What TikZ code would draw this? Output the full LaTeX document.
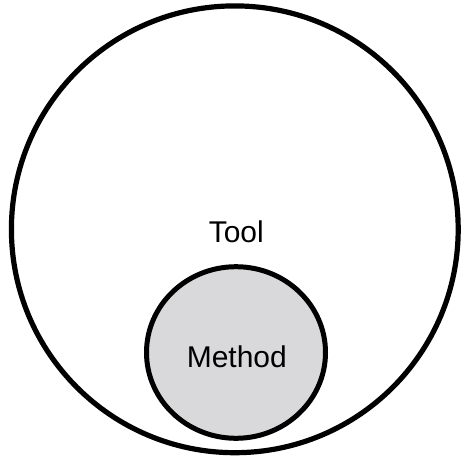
\documentclass[tikz,border=0pt]{standalone}
\usepackage{fontspec}
\setmainfont{Liberation Sans}
\definecolor{methodfill}{RGB}{217,216,218}
\begin{document}
\begin{tikzpicture}[x=1pt,y=-1pt,
  outerset/.style={draw=black,line width=5.2pt},
  innerset/.style={draw=black,line width=5pt,fill=methodfill},
  setlabel/.style={anchor=base,inner sep=0pt,font=\fontsize{30}{36}\selectfont}]
  \useasboundingbox (0,0) rectangle (461,463);
  % the enclosing set
  \draw[outerset] (234.8,229.3) circle [radius=223.4];
  % the contained set
  \draw[innerset] (236,352.5) ellipse [x radius=89.5, y radius=85.8];
  \node[setlabel] (tool) at (236.3,242) {Tool};
  \node[setlabel] (method) at (236.8,367.2) {Method};
\end{tikzpicture}
\end{document}
